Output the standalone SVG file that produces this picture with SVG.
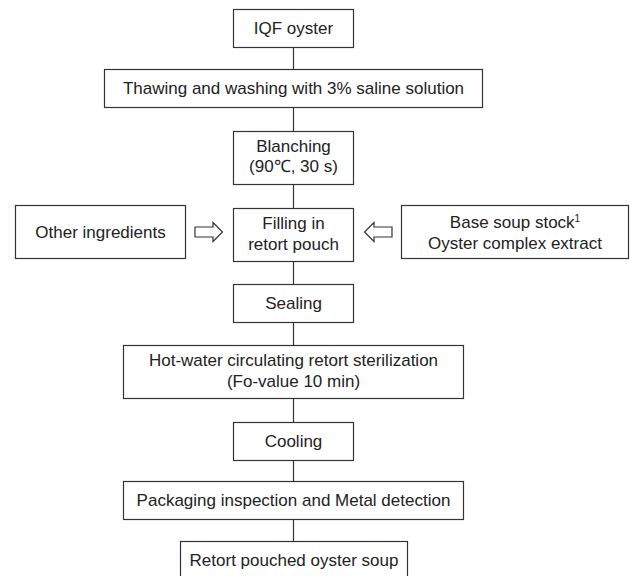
<svg xmlns="http://www.w3.org/2000/svg" width="633" height="576" viewBox="0 0 633 576">
<style>
.box{fill:#fff;stroke:#333;stroke-width:1.2}
.t{font-family:"Liberation Sans",Arial,sans-serif;font-size:17px;fill:#222;text-anchor:middle}
.ln{stroke:#333;stroke-width:1.2;fill:none}
.ar{fill:#fff;stroke:#333;stroke-width:1.2;stroke-linejoin:miter}
</style>
<rect width="633" height="576" fill="#fff"/>
<g id="connectors">
<line class="ln" x1="293.5" y1="47.5" x2="293.5" y2="69.5"/>
<line class="ln" x1="293.5" y1="107.5" x2="293.5" y2="131.5"/>
<line class="ln" x1="293.5" y1="184.5" x2="293.5" y2="208.5"/>
<line class="ln" x1="293.5" y1="261.5" x2="293.5" y2="284.5"/>
<line class="ln" x1="293.5" y1="322.5" x2="293.5" y2="345.5"/>
<line class="ln" x1="293.5" y1="398.5" x2="293.5" y2="422.5"/>
<line class="ln" x1="293.5" y1="460.5" x2="293.5" y2="481.5"/>
<line class="ln" x1="293.5" y1="519.5" x2="293.5" y2="541.5"/>
<polygon class="ar" points="195,227 213,227 213,222.5 222.5,232 213,241.5 213,237 195,237"/>
<polygon class="ar" points="392,227 374,227 374,222.5 364.5,232 374,241.5 374,237 392,237"/>
</g>
<g id="iqf"><rect class="box" x="233.5" y="9.5" width="120" height="38"/><text class="t" x="293.5" y="34">IQF oyster</text></g>
<g id="thawing"><rect class="box" x="104.5" y="69.5" width="378" height="38"/><text class="t" x="293.5" y="94">Thawing and washing with 3% saline solution</text></g>
<g id="blanching"><rect class="box" x="233.5" y="131.5" width="120" height="53"/><text class="t" x="293.5" y="151.5">Blanching</text><text class="t" x="293.5" y="172">(90℃, 30 s)</text></g>
<g id="other"><rect class="box" x="15.5" y="205.5" width="170" height="53"/><text class="t" x="100.5" y="238">Other ingredients</text></g>
<g id="filling"><rect class="box" x="233.5" y="208.5" width="120" height="53"/><text class="t" x="293.5" y="228.5">Filling in</text><text class="t" x="293.5" y="249.5">retort pouch</text></g>
<g id="base"><rect class="box" x="401.5" y="205.5" width="227" height="53"/><text class="t" x="515" y="228">Base soup stock<tspan font-size="10" dy="-6">1</tspan></text><text class="t" x="515" y="249">Oyster complex extract</text></g>
<g id="sealing"><rect class="box" x="233.5" y="284.5" width="120" height="38"/><text class="t" x="293.5" y="309">Sealing</text></g>
<g id="sterilization"><rect class="box" x="123.5" y="345.5" width="340" height="53"/><text class="t" x="293.5" y="366">Hot-water circulating retort sterilization</text><text class="t" x="293.5" y="387">(Fo-value 10 min)</text></g>
<g id="cooling"><rect class="box" x="233.5" y="422.5" width="120" height="38"/><text class="t" x="293.5" y="447">Cooling</text></g>
<g id="packaging"><rect class="box" x="123.5" y="481.5" width="340" height="38"/><text class="t" x="293.5" y="506">Packaging inspection and Metal detection</text></g>
<g id="retort"><rect class="box" x="180.5" y="541.5" width="227" height="40"/><text class="t" x="294" y="566">Retort pouched oyster soup</text></g>
</svg>
